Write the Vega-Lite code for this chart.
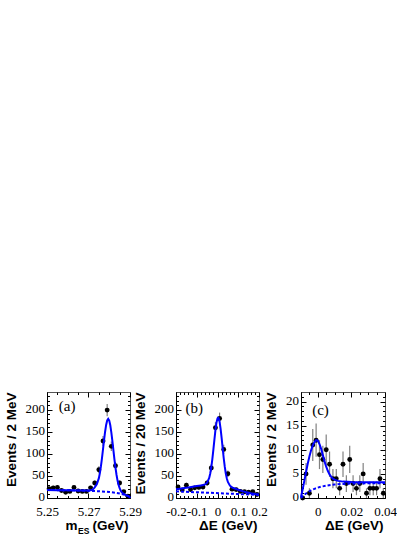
{
  "$schema": "https://vega.github.io/schema/vega-lite/v6.json",
  "padding": {"left": 3, "top": 391, "right": 0, "bottom": 0},
  "bounds": "flush",
  "spacing": 46,
  "datasets": {
    "a_pts": [
      {"x": 5.251, "n": 21, "lo": 16.4, "hi": 25.6},
      {"x": 5.253, "n": 23, "lo": 18.2, "hi": 27.8},
      {"x": 5.255, "n": 24, "lo": 19.1, "hi": 28.9},
      {"x": 5.257, "n": 17, "lo": 12.9, "hi": 21.1},
      {"x": 5.259, "n": 13, "lo": 9.4, "hi": 16.6},
      {"x": 5.261, "n": 15, "lo": 11.1, "hi": 18.9},
      {"x": 5.263, "n": 24, "lo": 19.1, "hi": 28.9},
      {"x": 5.265, "n": 16, "lo": 12, "hi": 20},
      {"x": 5.267, "n": 15, "lo": 11.1, "hi": 18.9},
      {"x": 5.269, "n": 15, "lo": 11.1, "hi": 18.9},
      {"x": 5.271, "n": 23, "lo": 18.2, "hi": 27.8},
      {"x": 5.273, "n": 34, "lo": 28.2, "hi": 39.8},
      {"x": 5.275, "n": 64, "lo": 56, "hi": 72},
      {"x": 5.277, "n": 129, "lo": 117.6, "hi": 140.4},
      {"x": 5.279, "n": 199, "lo": 184.9, "hi": 213.1},
      {"x": 5.281, "n": 117, "lo": 106.2, "hi": 127.8},
      {"x": 5.283, "n": 73, "lo": 64.5, "hi": 81.5},
      {"x": 5.285, "n": 34, "lo": 28.2, "hi": 39.8},
      {"x": 5.287, "n": 14, "lo": 10.3, "hi": 17.7},
      {"x": 5.289, "n": 4, "lo": 2, "hi": 6}
    ],
    "a_sig": [
      {"x": 5.25, "y": 18.0}, {"x": 5.255, "y": 17.8}, {"x": 5.26, "y": 17.5},
      {"x": 5.265, "y": 17.0}, {"x": 5.268, "y": 16.7}, {"x": 5.27, "y": 16.8},
      {"x": 5.271, "y": 17.4}, {"x": 5.272, "y": 19.0}, {"x": 5.273, "y": 24.0},
      {"x": 5.274, "y": 31.0}, {"x": 5.275, "y": 45.0}, {"x": 5.2755, "y": 57.0},
      {"x": 5.276, "y": 72.0}, {"x": 5.2765, "y": 90.5}, {"x": 5.277, "y": 110.7},
      {"x": 5.2775, "y": 131.0}, {"x": 5.278, "y": 150.0}, {"x": 5.2785, "y": 165.5},
      {"x": 5.279, "y": 175.5}, {"x": 5.2795, "y": 179.0}, {"x": 5.28, "y": 175.2},
      {"x": 5.2805, "y": 164.7}, {"x": 5.281, "y": 148.8}, {"x": 5.2815, "y": 129.4},
      {"x": 5.282, "y": 108.4}, {"x": 5.2825, "y": 87.7}, {"x": 5.283, "y": 68.9},
      {"x": 5.2835, "y": 52.7}, {"x": 5.284, "y": 39.5}, {"x": 5.2845, "y": 29.5},
      {"x": 5.285, "y": 22.1}, {"x": 5.2855, "y": 17.0}, {"x": 5.286, "y": 13.3},
      {"x": 5.287, "y": 9.1}, {"x": 5.288, "y": 6.7}, {"x": 5.289, "y": 4.6},
      {"x": 5.2895, "y": 3.2}, {"x": 5.2899, "y": 1.4}, {"x": 5.29, "y": 0}
    ],
    "a_bkg": [
      {"x": 5.25, "y": 18.0}, {"x": 5.255, "y": 17.8}, {"x": 5.26, "y": 17.5},
      {"x": 5.265, "y": 17.0}, {"x": 5.27, "y": 16.3}, {"x": 5.275, "y": 15.3},
      {"x": 5.28, "y": 13.7}, {"x": 5.283, "y": 11.9}, {"x": 5.285, "y": 10.2},
      {"x": 5.287, "y": 7.9}, {"x": 5.288, "y": 6.4}, {"x": 5.289, "y": 4.5},
      {"x": 5.2895, "y": 3.2}, {"x": 5.2899, "y": 1.4}, {"x": 5.29, "y": 0}
    ],
    "b_pts": [
      {"x": -0.19, "n": 25, "lo": 20, "hi": 30},
      {"x": -0.17, "n": 18, "lo": 13.8, "hi": 22.2},
      {"x": -0.15, "n": 29, "lo": 23.6, "hi": 34.4},
      {"x": -0.13, "n": 19, "lo": 14.6, "hi": 23.4},
      {"x": -0.11, "n": 23, "lo": 18.2, "hi": 27.8},
      {"x": -0.09, "n": 24, "lo": 19.1, "hi": 28.9},
      {"x": -0.07, "n": 25, "lo": 20, "hi": 30},
      {"x": -0.05, "n": 34, "lo": 28.2, "hi": 39.8},
      {"x": -0.03, "n": 68, "lo": 59.8, "hi": 76.2},
      {"x": -0.01, "n": 159, "lo": 146.4, "hi": 171.6},
      {"x": 0.01, "n": 180, "lo": 166.6, "hi": 193.4},
      {"x": 0.03, "n": 110, "lo": 99.5, "hi": 120.5},
      {"x": 0.05, "n": 55, "lo": 47.6, "hi": 62.4},
      {"x": 0.07, "n": 20, "lo": 15.5, "hi": 24.5},
      {"x": 0.09, "n": 19, "lo": 14.6, "hi": 23.4},
      {"x": 0.11, "n": 15, "lo": 11.1, "hi": 18.9},
      {"x": 0.13, "n": 14, "lo": 10.3, "hi": 17.7},
      {"x": 0.15, "n": 13, "lo": 9.4, "hi": 16.6},
      {"x": 0.17, "n": 14, "lo": 10.3, "hi": 17.7},
      {"x": 0.19, "n": 8, "lo": 5.2, "hi": 10.8}
    ],
    "b_sig": [
      {"x": -0.2, "y": 20.0}, {"x": -0.18, "y": 21.1}, {"x": -0.16, "y": 22.4},
      {"x": -0.14, "y": 23.8}, {"x": -0.12, "y": 25.4}, {"x": -0.1, "y": 27.0},
      {"x": -0.08, "y": 28.5}, {"x": -0.07, "y": 29.3}, {"x": -0.06, "y": 30.8},
      {"x": -0.05, "y": 34.7}, {"x": -0.04, "y": 45.6}, {"x": -0.035, "y": 55.6},
      {"x": -0.03, "y": 69.6}, {"x": -0.025, "y": 87.7}, {"x": -0.02, "y": 109.0},
      {"x": -0.015, "y": 131.8}, {"x": -0.01, "y": 153.4}, {"x": -0.005, "y": 170.5},
      {"x": 0, "y": 180.3}, {"x": 0.003, "y": 181.9}, {"x": 0.005, "y": 181.1},
      {"x": 0.01, "y": 172.7}, {"x": 0.015, "y": 156.6}, {"x": 0.02, "y": 135.4},
      {"x": 0.025, "y": 112.3}, {"x": 0.03, "y": 90.0}, {"x": 0.035, "y": 70.8},
      {"x": 0.04, "y": 55.5}, {"x": 0.045, "y": 44.2}, {"x": 0.05, "y": 36.3},
      {"x": 0.06, "y": 27.9}, {"x": 0.07, "y": 24.2}, {"x": 0.08, "y": 22.0},
      {"x": 0.1, "y": 18.6}, {"x": 0.12, "y": 15.5}, {"x": 0.14, "y": 12.8},
      {"x": 0.16, "y": 10.7}, {"x": 0.18, "y": 9.1}, {"x": 0.2, "y": 8.0}
    ],
    "b_bkg": [
      {"x": -0.2, "y": 15.0}, {"x": 0.2, "y": 7.0}
    ],
    "c_pts": [
      {"x": -0.009, "n": 0, "lo": 0, "hi": 0},
      {"x": -0.007, "n": 5, "lo": 2.76, "hi": 7.24},
      {"x": -0.005, "n": 1, "lo": 0, "hi": 2},
      {"x": -0.003, "n": 11, "lo": 7.68, "hi": 14.32},
      {"x": -0.001, "n": 12, "lo": 8.54, "hi": 15.46},
      {"x": 0.001, "n": 9, "lo": 6, "hi": 12},
      {"x": 0.003, "n": 8, "lo": 5.17, "hi": 10.83},
      {"x": 0.005, "n": 10, "lo": 6.84, "hi": 13.16},
      {"x": 0.007, "n": 7, "lo": 4.35, "hi": 9.65},
      {"x": 0.009, "n": 4, "lo": 2, "hi": 6},
      {"x": 0.011, "n": 4, "lo": 2, "hi": 6},
      {"x": 0.013, "n": 2, "lo": 0.59, "hi": 3.41},
      {"x": 0.015, "n": 7, "lo": 4.35, "hi": 9.65},
      {"x": 0.017, "n": 3, "lo": 1.27, "hi": 4.73},
      {"x": 0.019, "n": 8, "lo": 5.17, "hi": 10.83},
      {"x": 0.021, "n": 3, "lo": 1.27, "hi": 4.73},
      {"x": 0.023, "n": 2, "lo": 0.59, "hi": 3.41},
      {"x": 0.025, "n": 3, "lo": 1.27, "hi": 4.73},
      {"x": 0.027, "n": 5, "lo": 2.76, "hi": 7.24},
      {"x": 0.029, "n": 1, "lo": 0, "hi": 2},
      {"x": 0.031, "n": 2, "lo": 0.59, "hi": 3.41},
      {"x": 0.033, "n": 2, "lo": 0.59, "hi": 3.41},
      {"x": 0.035, "n": 2, "lo": 0.59, "hi": 3.41},
      {"x": 0.037, "n": 4, "lo": 2, "hi": 6},
      {"x": 0.039, "n": 1, "lo": 0, "hi": 2}
    ],
    "c_sig": [
      {"x": -0.01, "y": 0.2}, {"x": -0.009, "y": 1.8}, {"x": -0.008, "y": 3.6},
      {"x": -0.007, "y": 5.4}, {"x": -0.006, "y": 7.1}, {"x": -0.005, "y": 8.6},
      {"x": -0.004, "y": 9.9}, {"x": -0.003, "y": 10.9}, {"x": -0.002, "y": 11.6},
      {"x": -0.001, "y": 12.0}, {"x": 0, "y": 11.9}, {"x": 0.001, "y": 11.2},
      {"x": 0.002, "y": 10.2}, {"x": 0.003, "y": 8.9}, {"x": 0.004, "y": 7.6},
      {"x": 0.005, "y": 6.5}, {"x": 0.006, "y": 5.6}, {"x": 0.007, "y": 4.9},
      {"x": 0.008, "y": 4.4}, {"x": 0.009, "y": 4.0}, {"x": 0.01, "y": 3.8},
      {"x": 0.012, "y": 3.55}, {"x": 0.015, "y": 3.4}, {"x": 0.02, "y": 3.3},
      {"x": 0.03, "y": 3.25}, {"x": 0.04, "y": 3.25}
    ],
    "c_bkg": [
      {"x": -0.01, "y": 0}, {"x": -0.009, "y": 0.35}, {"x": -0.008, "y": 0.65},
      {"x": -0.007, "y": 0.95}, {"x": -0.006, "y": 1.2}, {"x": -0.005, "y": 1.4},
      {"x": -0.004, "y": 1.6}, {"x": -0.002, "y": 1.9}, {"x": 0, "y": 2.15},
      {"x": 0.002, "y": 2.35}, {"x": 0.005, "y": 2.55}, {"x": 0.01, "y": 2.8},
      {"x": 0.015, "y": 2.93}, {"x": 0.02, "y": 3.0}, {"x": 0.03, "y": 3.05},
      {"x": 0.04, "y": 3.1}
    ],
    "a_lab": [{"x": 5.2597, "y": 208, "t": "(a)"}],
    "b_lab": [{"x": -0.112, "y": 204, "t": "(b)"}],
    "c_lab": [{"x": 0.0016, "y": 18.2, "t": "(c)"}]
  },
  "hconcat": [
    {
      "width": 83, "height": 106,
      "resolve": {"axis": {"x": "independent", "y": "independent"}},
      "layer": [
        {
          "data": {"name": "a_pts"},
          "mark": {"type": "rule", "color": "#808080", "strokeWidth": 1.2},
          "encoding": {
            "x": {"field": "x", "type": "quantitative", "scale": {"domain": [5.25, 5.29]},
              "axis": {"orient": "bottom", "values": [5.255, 5.26, 5.265, 5.275, 5.28, 5.285], "labels": false, "domain": false, "tickSize": -2.5,
                "title": "(GeV)", "titleAlign": "right", "titleX": 81, "titleY": 31.5, "titleBaseline": "alphabetic"}},
            "y": {"field": "lo", "type": "quantitative", "scale": {"domain": [0, 240]},
              "axis": {"orient": "left", "values": [10, 20, 30, 40, 60, 70, 80, 90, 110, 120, 130, 140, 160, 170, 180, 190, 210, 220, 230], "labels": false, "domain": false, "tickSize": -2.5, "title": null}},
            "y2": {"field": "hi"}
          }
        },
        {
          "data": {"name": "a_pts"},
          "mark": {"type": "circle", "color": "black", "opacity": 1, "size": 24},
          "encoding": {
            "x": {"field": "x", "type": "quantitative",
              "axis": {"orient": "top", "values": [5.255, 5.26, 5.265, 5.275, 5.28, 5.285], "labels": false, "domain": false, "tickSize": -2.5, "title": null}},
            "y": {"field": "n", "type": "quantitative",
              "axis": {"orient": "right", "values": [10, 20, 30, 40, 60, 70, 80, 90, 110, 120, 130, 140, 160, 170, 180, 190, 210, 220, 230], "labels": false, "domain": false, "tickSize": -2.5, "title": null}}
          }
        },
        {
          "data": {"name": "a_bkg"},
          "mark": {"type": "line", "color": "#0000ff", "strokeWidth": 2, "strokeDash": [3, 2]},
          "encoding": {
            "x": {"field": "x", "type": "quantitative",
              "axis": {"orient": "top", "values": [5.25, 5.27, 5.29], "labels": false, "domain": false, "tickSize": -5, "title": null}},
            "y": {"field": "y", "type": "quantitative",
              "axis": {"orient": "right", "values": [0, 50, 100, 150, 200], "labels": false, "domain": false, "tickSize": -5, "title": null}}
          }
        },
        {
          "data": {"name": "a_sig"},
          "mark": {"type": "line", "color": "#0000ff", "strokeWidth": 2},
          "encoding": {
            "x": {"field": "x", "type": "quantitative",
              "axis": {"orient": "bottom", "values": [5.25, 5.27, 5.29], "labelExpr": "'' + datum.value", "tickSize": -5, "labelPadding": 12.5, "labelFlush": false, "labelOverlap": false,
                "title": "m", "titleAlign": "right", "titleX": 30, "titleY": 31.5, "titleBaseline": "alphabetic"}},
            "y": {"field": "y", "type": "quantitative",
              "axis": {"orient": "left", "values": [0, 50, 100, 150, 200], "tickSize": -5, "labelPadding": 7.5, "labelOffset": -1.5, "labelOverlap": false, "title": "Events / 2 MeV", "titleAnchor": "end", "titlePadding": 7}}
          }
        },
        {
          "data": {"name": "a_lab"},
          "mark": {"type": "text", "font": "Liberation Serif", "fontSize": 15, "baseline": "middle", "align": "center", "color": "black"},
          "encoding": {
            "x": {"field": "x", "type": "quantitative",
              "axis": {"orient": "bottom", "labels": false, "ticks": false, "domain": false, "title": "ES", "titleFontSize": 8.5, "titleAlign": "left", "titleX": 30.5, "titleY": 35.5, "titleBaseline": "alphabetic"}},
            "y": {"field": "y", "type": "quantitative", "axis": null},
            "text": {"field": "t"}
          }
        }
      ]
    },
    {
      "bounds": "flush",
      "spacing": 42,
      "hconcat": [
        {
          "width": 83, "height": 106,
          "resolve": {"axis": {"x": "independent", "y": "independent"}},
          "layer": [
            {
              "data": {"name": "b_pts"},
              "mark": {"type": "rule", "color": "#808080", "strokeWidth": 1.2},
              "encoding": {
                "x": {"field": "x", "type": "quantitative", "scale": {"domain": [-0.2, 0.2]},
                  "axis": {"orient": "bottom", "values": [-0.18, -0.16, -0.14, -0.12, -0.08, -0.06, -0.04, -0.02, 0.02, 0.04, 0.06, 0.08, 0.12, 0.14, 0.16, 0.18], "labels": false, "domain": false, "tickSize": -2.5, "title": null}},
                "y": {"field": "lo", "type": "quantitative", "scale": {"domain": [0, 240]},
                  "axis": {"orient": "left", "values": [10, 20, 30, 40, 60, 70, 80, 90, 110, 120, 130, 140, 160, 170, 180, 190, 210, 220, 230], "labels": false, "domain": false, "tickSize": -2.5, "title": null}},
                "y2": {"field": "hi"}
              }
            },
            {
              "data": {"name": "b_pts"},
              "mark": {"type": "circle", "color": "black", "opacity": 1, "size": 24},
              "encoding": {
                "x": {"field": "x", "type": "quantitative",
                  "axis": {"orient": "top", "values": [-0.18, -0.16, -0.14, -0.12, -0.08, -0.06, -0.04, -0.02, 0.02, 0.04, 0.06, 0.08, 0.12, 0.14, 0.16, 0.18], "labels": false, "domain": false, "tickSize": -2.5, "title": null}},
                "y": {"field": "n", "type": "quantitative",
                  "axis": {"orient": "right", "values": [10, 20, 30, 40, 60, 70, 80, 90, 110, 120, 130, 140, 160, 170, 180, 190, 210, 220, 230], "labels": false, "domain": false, "tickSize": -2.5, "title": null}}
              }
            },
            {
              "data": {"name": "b_bkg"},
              "mark": {"type": "line", "color": "#0000ff", "strokeWidth": 2, "strokeDash": [3, 2]},
              "encoding": {
                "x": {"field": "x", "type": "quantitative",
                  "axis": {"orient": "top", "values": [-0.2, -0.1, 0, 0.1, 0.2], "labels": false, "domain": false, "tickSize": -5, "title": null}},
                "y": {"field": "y", "type": "quantitative",
                  "axis": {"orient": "right", "values": [0, 50, 100, 150, 200], "labels": false, "domain": false, "tickSize": -5, "title": null}}
              }
            },
            {
              "data": {"name": "b_sig"},
              "mark": {"type": "line", "color": "#0000ff", "strokeWidth": 2},
              "encoding": {
                "x": {"field": "x", "type": "quantitative",
                  "axis": {"orient": "bottom", "values": [-0.2, -0.1, 0, 0.1, 0.2], "labelExpr": "'' + datum.value", "tickSize": -5, "labelPadding": 12.5, "labelFlush": false, "labelOverlap": false,
                    "title": "ΔE (GeV)", "titleAlign": "right", "titleX": 81, "titleY": 31.5, "titleBaseline": "alphabetic"}},
                "y": {"field": "y", "type": "quantitative",
                  "axis": {"orient": "left", "values": [0, 50, 100, 150, 200], "tickSize": -5, "labelPadding": 7.5, "labelOffset": -1.5, "labelOverlap": false, "title": "Events / 20 MeV", "titleAnchor": "end", "titlePadding": 7}}
              }
            },
            {
              "data": {"name": "b_lab"},
              "mark": {"type": "text", "font": "Liberation Serif", "fontSize": 15, "baseline": "middle", "align": "center", "color": "black"},
              "encoding": {
                "x": {"field": "x", "type": "quantitative", "axis": null},
                "y": {"field": "y", "type": "quantitative", "axis": null},
                "text": {"field": "t"}
              }
            }
          ]
        },
        {
          "width": 84, "height": 106,
          "resolve": {"axis": {"x": "independent", "y": "independent"}},
          "layer": [
            {
              "data": {"name": "c_pts"},
              "mark": {"type": "rule", "color": "#808080", "strokeWidth": 1.2},
              "encoding": {
                "x": {"field": "x", "type": "quantitative", "scale": {"domain": [-0.01, 0.04]},
                  "axis": {"orient": "bottom", "values": [-0.005, 0.005, 0.01, 0.015, 0.025, 0.03, 0.035], "labels": false, "domain": false, "tickSize": -2.5, "title": null}},
                "y": {"field": "lo", "type": "quantitative", "scale": {"domain": [0, 21]},
                  "axis": {"orient": "left", "values": [1, 2, 3, 4, 6, 7, 8, 9, 11, 12, 13, 14, 16, 17, 18, 19, 21], "labels": false, "domain": false, "tickSize": -2.5, "title": null}},
                "y2": {"field": "hi"}
              }
            },
            {
              "data": {"name": "c_pts"},
              "mark": {"type": "circle", "color": "black", "opacity": 1, "size": 24},
              "encoding": {
                "x": {"field": "x", "type": "quantitative",
                  "axis": {"orient": "top", "values": [-0.005, 0.005, 0.01, 0.015, 0.025, 0.03, 0.035], "labels": false, "domain": false, "tickSize": -2.5, "title": null}},
                "y": {"field": "n", "type": "quantitative",
                  "axis": {"orient": "right", "values": [1, 2, 3, 4, 6, 7, 8, 9, 11, 12, 13, 14, 16, 17, 18, 19, 21], "labels": false, "domain": false, "tickSize": -2.5, "title": null}}
              }
            },
            {
              "data": {"name": "c_bkg"},
              "mark": {"type": "line", "color": "#0000ff", "strokeWidth": 2, "strokeDash": [3, 2]},
              "encoding": {
                "x": {"field": "x", "type": "quantitative",
                  "axis": {"orient": "top", "values": [-0.01, 0, 0.02, 0.04], "labels": false, "domain": false, "tickSize": -5, "title": null}},
                "y": {"field": "y", "type": "quantitative",
                  "axis": {"orient": "right", "values": [0, 5, 10, 15, 20], "labels": false, "domain": false, "tickSize": -5, "title": null}}
              }
            },
            {
              "data": {"name": "c_sig"},
              "mark": {"type": "line", "color": "#0000ff", "strokeWidth": 2},
              "encoding": {
                "x": {"field": "x", "type": "quantitative",
                  "axis": {"orient": "bottom", "values": [-0.01, 0, 0.02, 0.04], "labelExpr": "datum.value < 0 ? '' : '' + datum.value", "tickSize": -5, "labelPadding": 12.5, "labelFlush": false, "labelOverlap": false,
                    "title": "ΔE (GeV)", "titleAlign": "right", "titleX": 82, "titleY": 31.5, "titleBaseline": "alphabetic"}},
                "y": {"field": "y", "type": "quantitative",
                  "axis": {"orient": "left", "values": [0, 5, 10, 15, 20], "tickSize": -5, "labelPadding": 7.5, "labelOffset": -1.5, "labelOverlap": false, "title": "Events / 2 MeV", "titleAnchor": "end", "titlePadding": 7}}
              }
            },
            {
              "data": {"name": "c_lab"},
              "mark": {"type": "text", "font": "Liberation Serif", "fontSize": 15, "baseline": "middle", "align": "center", "color": "black"},
              "encoding": {
                "x": {"field": "x", "type": "quantitative", "axis": null},
                "y": {"field": "y", "type": "quantitative", "axis": null},
                "text": {"field": "t"}
              }
            }
          ]
        }
      ]
    }
  ],
  "config": {
    "view": {"stroke": "#555555", "strokeWidth": 1},
    "axis": {
      "grid": false,
      "labelFont": "Liberation Serif", "labelFontSize": 13, "labelColor": "black",
      "titleFont": "Liberation Sans", "titleFontWeight": "bold", "titleFontSize": 13.5, "titleColor": "black",
      "domainColor": "black", "tickColor": "black", "tickWidth": 1
    }
  }
}
